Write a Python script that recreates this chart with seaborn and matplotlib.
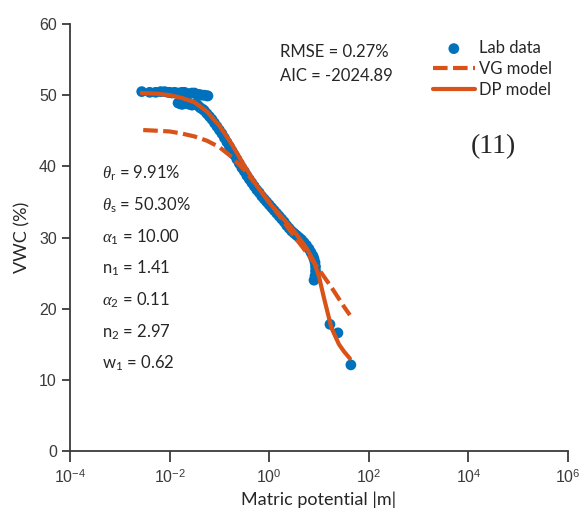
import numpy as np
import pandas as pd
import matplotlib
matplotlib.use("Agg")
import matplotlib.pyplot as plt
import seaborn as sns

# Lab data (log10 of matric potential, VWC %)
lab_logx = [-2.56, -2.40, -2.28, -2.18, -2.10, -2.04, -2.00, -1.95, -1.90, -1.85, -1.80, -1.75,
            -1.70, -1.65, -1.60, -1.55, -1.50, -1.45, -1.40, -1.35, -1.30, -1.25, -1.23,
            -1.83, -1.79, -1.75, -1.70, -1.65, -1.60, -1.55, -1.50, -1.45, -1.41, -1.38,
            -1.33, -1.30, -1.25, -1.20, -1.15, -1.10, -1.05, -1.00, -0.95, -0.90, -0.85,
            -0.80, -0.75, -0.70, -0.65, -0.60, -0.55, -0.50, -0.45, -0.40, -0.35, -0.30,
            -0.25, -0.20, -0.15, -0.10, -0.05, 0.00, 0.05, 0.10, 0.15, 0.20, 0.25, 0.30,
            0.35, 0.40, 0.45, 0.50, 0.55, 0.60, 0.65, 0.70, 0.75, 0.80, 0.84, 0.88,
            0.90, 0.92, 0.93, 0.93, 0.92, 0.90, 1.22, 1.38, 1.64]
lab_vwc = [50.5, 50.4, 50.4, 50.5, 50.5, 50.4, 50.4, 50.3, 50.4, 50.3, 50.3, 50.4,
           50.4, 50.2, 50.2, 50.3, 50.3, 50.1, 50.1, 50.0, 50.0, 49.9, 49.9,
           48.9, 48.8, 48.7, 48.9, 48.8, 48.7, 48.6, 48.7, 48.7, 48.4, 48.2,
           48.0, 47.8, 47.4, 47.0, 46.6, 46.1, 45.6, 45.1, 44.6, 44.0, 43.4,
           42.8, 42.2, 41.6, 41.0, 40.4, 39.8, 39.3, 38.7, 38.2, 37.7, 37.2,
           36.7, 36.3, 35.8, 35.4, 35.0, 34.6, 34.2, 33.8, 33.4, 33.0, 32.6, 32.2,
           31.7, 31.3, 30.9, 30.6, 30.3, 30.0, 29.7, 29.3, 28.9, 28.4, 27.9, 27.4,
           27.0, 26.5, 25.9, 25.3, 24.6, 24.0, 17.8, 16.6, 12.1]

# VG model curve
vg_logx = [-2.53, -2.25, -2.00, -1.75, -1.50, -1.25, -1.00, -0.75, -0.50, -0.25, 0.00,
           0.25, 0.50, 0.75, 1.00, 1.25, 1.50, 1.62]
vg_vwc = [45.1, 45.0, 44.9, 44.6, 44.2, 43.6, 42.7, 41.3, 39.5, 37.3, 35.0,
          32.6, 30.2, 27.9, 25.5, 23.0, 20.3, 19.1]

# DP model curve
dp_logx = [-2.56, -2.25, -2.00, -1.75, -1.50, -1.25, -1.00, -0.75, -0.50, -0.25, 0.00,
           0.25, 0.50, 0.75, 0.90, 1.00, 1.10, 1.25, 1.40, 1.50, 1.62]
dp_vwc = [50.3, 50.2, 50.0, 49.6, 49.0, 47.7, 45.7, 43.1, 40.1, 37.3, 34.9,
          32.9, 30.9, 28.5, 26.6, 24.5, 21.5, 17.3, 15.0, 14.0, 13.0]

params = [r"$\theta_{\mathsf{r}}$ = 9.91%", r"$\theta_{\mathsf{s}}$ = 50.30%",
          r"$\alpha_{\mathsf{1}}$ = 10.00", r"n$_{\mathsf{1}}$ = 1.41",
          r"$\alpha_{\mathsf{2}}$ = 0.11", r"n$_{\mathsf{2}}$ = 2.97",
          r"w$_{\mathsf{1}}$ = 0.62"]

blue = "#0072BD"
orange = "#D95319"

sns.set_style("ticks")
plt.rcParams["font.family"] = ["Lato", "DejaVu Sans"]
plt.rcParams["mathtext.fontset"] = "custom"
plt.rcParams["mathtext.rm"] = "Liberation Sans"
plt.rcParams["mathtext.it"] = "Liberation Serif:italic"
plt.rcParams["mathtext.sf"] = "Lato"

lab = pd.DataFrame({"x": 10 ** np.array(lab_logx), "y": lab_vwc})
vg = pd.DataFrame({"x": 10 ** np.array(vg_logx), "y": vg_vwc})
dp = pd.DataFrame({"x": 10 ** np.array(dp_logx), "y": dp_vwc})

W, H = 587, 529
fig = plt.figure(figsize=(W / 100, H / 100), dpi=100)
ax = fig.add_axes([70 / W, 1 - 451 / H, (568 - 70) / W, (451 - 24) / H])

sns.scatterplot(data=lab, x="x", y="y", ax=ax, color=blue, s=60, edgecolor="none",
                label="Lab data", zorder=2)
sns.lineplot(data=vg, x="x", y="y", ax=ax, color=orange, lw=3, estimator=None,
             sort=False, label="VG model", zorder=3, dashes=False)
ax.lines[-1].set_dashes([3.5, 1.3])
sns.lineplot(data=dp, x="x", y="y", ax=ax, color=orange, lw=3, estimator=None,
             sort=False, label="DP model", zorder=3)

ax.set_xscale("log")
ax.set_xlim(1e-4, 1e6)
ax.set_ylim(0, 60)
ax.set_xticks([1e-4, 1e-2, 1e0, 1e2, 1e4, 1e6])
ax.set_xticklabels([r"$10^{-4}$", r"$10^{-2}$", r"$10^{0}$", r"$10^{2}$", r"$10^{4}$", r"$10^{6}$"])
ax.minorticks_off()
ax.set_yticks([0, 10, 20, 30, 40, 50, 60])
ax.set_yticklabels(["0", "10", "20", "30", "40", "50", "60"], family="Liberation Sans")
ax.tick_params(axis="both", labelsize=11.5, colors="#3a3a3a", width=1.3)
ax.tick_params(axis="y", length=6)
ax.tick_params(axis="x", length=8, pad=4)
for s in ["left", "bottom"]:
    ax.spines[s].set_linewidth(1.3)
    ax.spines[s].set_color("#3a3a3a")
sns.despine(ax=ax)
ax.set_xlabel("Matric potential |m|", fontsize=13, labelpad=4)
ax.set_ylabel("VWC (%)", fontsize=13, labelpad=6)

leg = ax.legend(loc="upper left", bbox_to_anchor=(433 / W, 1 - 40 / H),
                bbox_transform=fig.transFigure, frameon=False, fontsize=12,
                handlelength=2.5, handletextpad=0.25, labelspacing=0.3,
                borderpad=0, borderaxespad=0)

fig.text(280 / W, 1 - 52 / H, "RMSE = 0.27%", fontsize=12, va="center")
fig.text(280 / W, 1 - 76 / H, "AIC = -2024.89", fontsize=12, va="center")
fig.text(493 / W, 1 - 147 / H, "(11)", fontsize=20, va="center", ha="center",
         family="Liberation Serif")

ys = [173, 205, 237, 268, 300, 332, 363]
for t, yy in zip(params, ys):
    fig.text(102 / W, 1 - yy / H, t, fontsize=12, va="center")

fig.savefig("out.png", dpi=100)
